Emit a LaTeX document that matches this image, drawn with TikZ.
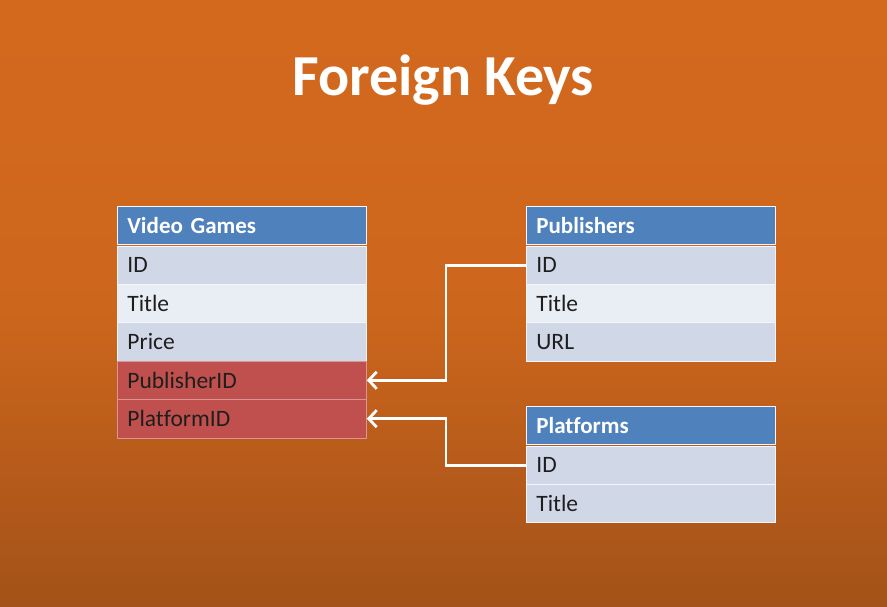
\documentclass[tikz,border=0pt]{standalone}
\usepackage{fontspec}
\setmainfont{Carlito}[Ligatures=NoCommon]
\usetikzlibrary{arrows.meta}
\definecolor{bgtop}{HTML}{D3691D}
\definecolor{bgbot}{HTML}{A35219}
\definecolor{hdr}{HTML}{4F81BD}
\definecolor{rowa}{HTML}{D0D8E8}
\definecolor{rowb}{HTML}{E9EDF4}
\definecolor{fk}{HTML}{C0504D}
\definecolor{txt}{HTML}{1E1E1E}
\definecolor{rowline}{HTML}{F4F6FA}
\tikzset{
  cell/.style={anchor=north west, minimum width=249pt, minimum height=38.4pt,
    inner xsep=10pt, inner ysep=0pt, text width=229pt, align=left,
    draw=rowline, line width=0.8pt, font=\fontsize{23.5}{28}\selectfont, text=txt},
  hcell/.style={cell, fill=hdr, minimum height=38pt, text=white, font=\fontsize{23}{28}\selectfont\bfseries},
  oddrow/.style={cell, fill=rowa},
  evenrow/.style={cell, fill=rowb},
  fkrow/.style={cell, fill=fk, draw=fk!60!white},
  fkarrow/.style={draw=white, line width=2.8pt, -{Straight Barb[length=8pt,width=17pt,line width=2.8pt]}},
  title/.style={font=\fontsize{58}{68}\selectfont\bfseries, text=white}
}
\begin{document}
\begin{tikzpicture}[x=1pt,y=-1pt]
\useasboundingbox (0,0) rectangle (887,607);
\shade[top color=bgtop, bottom color=bgbot, middle color=bgtop!88!bgbot] (0,0) rectangle (887,607);
\node[title] (title) at (443,80) {Foreign Keys};
% Video Games
\node[hcell] (vg-h) at (117,206) {Video Games};
\node[oddrow] (vg-id) at (117,245.5) {ID};
\node[evenrow] (vg-title) at (117,283.9) {Title};
\node[oddrow] (vg-price) at (117,322.3) {Price};
\node[fkrow] (vg-pub) at (117,360.7) {PublisherID};
\node[fkrow] (vg-plat) at (117,399.1) {PlatformID};
% Publishers
\node[hcell] (pub-h) at (526,206) {Publishers};
\node[oddrow] (pub-id) at (526,245.5) {ID};
\node[evenrow] (pub-title) at (526,283.9) {Title};
\node[oddrow] (pub-url) at (526,322.3) {URL};
% Platforms
\node[hcell] (plat-h) at (526,406) {Platforms};
\node[oddrow] (plat-id) at (526,445.5) {ID};
\node[oddrow] (plat-title) at (526,483.9) {Title};
% arrows
\draw[fkarrow] (pub-id.west) -- ++(-80,0) |- (vg-pub.east);
\draw[fkarrow] (plat-id.west) -- ++(-80,0) |- (vg-plat.east);
\end{tikzpicture}
\end{document}
